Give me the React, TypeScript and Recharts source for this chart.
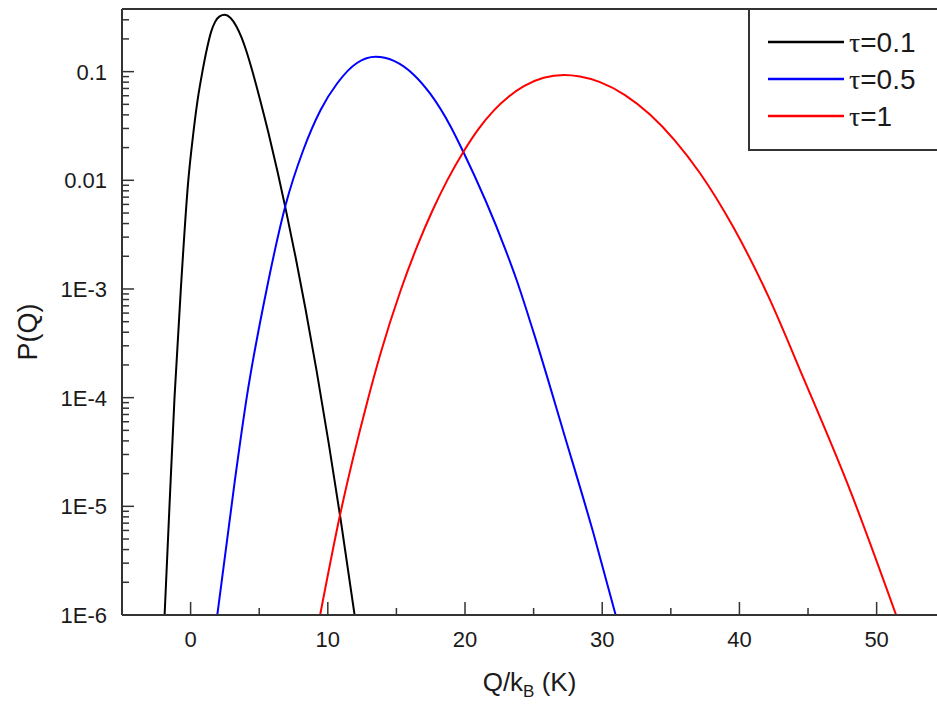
import React from 'react';
import { LineChart, Line, XAxis, YAxis, Legend, ReferenceLine } from 'recharts';

const seriesNames = ['τ=0.1', 'τ=0.5', 'τ=1'];
const seriesColors = ['#000000', '#0000ff', '#ff0000'];

// tau = 0.1
const qTau01 = [-1.895, -1.54, -1.173, -0.707, -0.168, 0.182, 0.51, 0.86, 1.203, 1.494, 1.786, 2.114, 2.478, 2.915, 3.353, 3.717, 4.009, 4.373, 5.029, 5.685, 6.341, 6.924, 7.653, 8.382, 9.184, 10.058, 10.933, 11.953];
const pTau01 = [1e-6, 1e-5, 1e-4, 0.00102, 0.01, 0.0261, 0.0548, 0.1, 0.165, 0.232, 0.287, 0.322, 0.333, 0.3114, 0.2591, 0.2052, 0.1622, 0.1151, 0.0573, 0.0269, 0.01192, 0.00549, 0.001956, 0.000647, 0.0001762, 0.00003857, 0.0000076, 1e-6];

// tau = 0.5
const qTau05 = [1.946, 3.229, 4.06, 5.634, 6.924, 8.214, 9.475, 10.69, 12.15, 13.48, 14.82, 16.28, 17.49, 18.95, 19.88, 22.96, 23.76, 25.02, 27.21, 29.4, 30.98];
const pTau05 = [1e-6, 0.0000174, 0.0000948, 0.00113, 0.00593, 0.019, 0.0444, 0.0782, 0.1208, 0.137, 0.1256, 0.0933, 0.062, 0.0313, 0.0182, 0.00228, 0.00121, 0.00039, 0.0000468, 0.00000542, 1e-6];

// tau = 1
const qTau1 = [9.44, 10.882, 12.879, 13.848, 15.306, 16.545, 17.638, 18.732, 19.876, 20.991, 22.106, 23.178, 24.293, 25.729, 27.208, 28.38, 29.84, 31.66, 33.48, 35.3, 37.13, 39.56, 42.11, 44.66, 48.06, 51.42];
const pTau1 = [1e-6, 0.00000823, 0.0000919, 0.000256, 0.000968, 0.00253, 0.0053, 0.01015, 0.01825, 0.02978, 0.04406, 0.05878, 0.07343, 0.08774, 0.0931, 0.0902, 0.0801, 0.0609, 0.0403, 0.0232, 0.0116, 0.00369, 0.000856, 0.000152, 0.0000141, 1e-6];

const xMajorTicks = [0, 10, 20, 30, 40, 50];
const xMinorTicks = [5, 15, 25, 35, 45];
const yMajorTicks = [1e-6, 1e-5, 1e-4, 1e-3, 0.01, 0.1];
const yMajorLabels = ['1E-6', '1E-5', '1E-4', '1E-3', '0.01', '0.1'];
const yMinorMultipliers = [2, 3, 4, 5, 6, 7, 8, 9];
const xDomain: [number, number] = [-5, 54.4];
const yDomain: [number, number] = [1e-6, 0.377];

const zip = (qs: number[], ps: number[]) => qs.map((q, i) => ({ q, p: ps[i] }));
const seriesData = [zip(qTau01, pTau01), zip(qTau05, pTau05), zip(qTau1, pTau1)];

const yMinorTicks: number[] = [];
yMajorTicks.forEach((d) => {
  yMinorMultipliers.forEach((m) => {
    const v = d * m;
    if (v <= yDomain[1]) yMinorTicks.push(v);
  });
});
const yAllTicks = [...yMajorTicks, ...yMinorTicks];
const xAllTicks = [...xMajorTicks, ...xMinorTicks].sort((a, b) => a - b);

const AXIS = '#333333';
const TEXT = '#1a1a1a';
const FONT = '"Liberation Sans", Arial, Helvetica, sans-serif';

const majorIndex = (v: number) =>
  yMajorTicks.findIndex((m) => Math.abs(Math.log10(m) - Math.log10(v)) < 1e-6);

const YTick = (props: any) => {
  const { x, y, payload } = props;
  const idx = majorIndex(payload.value);
  const major = idx >= 0;
  return (
    <g>
      <line x1={x} x2={x + (major ? 12 : 7)} y1={y} y2={y} stroke={AXIS} strokeWidth={1.5} />
      {major && (
        <text x={x - 15} y={y + 8} textAnchor="end" fontSize={22} fontFamily={FONT} fill={TEXT}>
          {yMajorLabels[idx]}
        </text>
      )}
    </g>
  );
};

const XTick = (props: any) => {
  const { x, y, payload } = props;
  const major = xMajorTicks.includes(payload.value);
  return (
    <g>
      <line x1={x} x2={x} y1={y} y2={y - (major ? 13 : 7)} stroke={AXIS} strokeWidth={1.5} />
      {major && (
        <text x={x} y={y + 32} textAnchor="middle" fontSize={22} fontFamily={FONT} fill={TEXT}>
          {payload.value}
        </text>
      )}
    </g>
  );
};

const YLabel = (props: any) => {
  const vb = props.viewBox || { x: 0, y: 0, width: 0, height: 0 };
  const cx = vb.x + 28;
  const cy = vb.y + vb.height / 2 + 20;
  return (
    <text
      x={cx}
      y={cy}
      transform={`rotate(-90 ${cx} ${cy})`}
      textAnchor="middle"
      dominantBaseline="central"
      fontSize={27}
      fontFamily={FONT}
      fill={TEXT}
    >
      P(Q)
    </text>
  );
};

const XLabel = (props: any) => {
  const vb = props.viewBox || { x: 0, y: 0, width: 0, height: 0 };
  const cx = vb.x + vb.width / 2;
  const by = vb.y + 76;
  return (
    <text x={cx} y={by} textAnchor="middle" fontSize={26} fontFamily={FONT} fill={TEXT}>
      Q/k
      <tspan fontSize={17} dy={6}>B</tspan>
      <tspan dy={-6}> (K)</tspan>
    </text>
  );
};

const LegendBox = (props: any) => {
  const payload = (props.payload || []) as any[];
  const w = 189;
  const h = 142;
  return (
    <svg width={w} height={h} style={{ display: 'block' }}>
      <line x1={1} x2={1} y1={0} y2={h - 1} stroke={AXIS} strokeWidth={2} />
      <line x1={0} x2={w} y1={h - 1} y2={h - 1} stroke={AXIS} strokeWidth={2} />
      {payload.map((entry: any, i: number) => {
        const cy = 33 + i * 37;
        const label = String(entry.value);
        const rest = label.replace('τ', '');
        return (
          <g key={i}>
            <line x1={20} x2={96} y1={cy} y2={cy} stroke={entry.color} strokeWidth={2.5} />
            <text x={101} y={cy + 10} fontSize={28} fontFamily={FONT} fill={TEXT}>
              <tspan fontFamily='"Liberation Serif", "Times New Roman", serif'>τ</tspan>
              {rest}
            </text>
          </g>
        );
      })}
    </svg>
  );
};

export default function App() {
  return (
    <div style={{ position: 'absolute', left: 0, top: 0, width: 937, height: 707, background: '#fff' }}>
      <LineChart width={937} height={707} margin={{ top: 9, right: 0, bottom: 0, left: 0 }}>
        <XAxis
          dataKey="q"
          type="number"
          domain={xDomain}
          allowDataOverflow
          ticks={xAllTicks}
          interval={0}
          height={92}
          tickSize={0}
          tickMargin={0}
          tick={<XTick />}
          axisLine={{ stroke: AXIS, strokeWidth: 2 }}
          label={<XLabel />}
        />
        <YAxis
          type="number"
          scale="log"
          domain={yDomain}
          allowDataOverflow
          ticks={yAllTicks}
          interval={0}
          width={122}
          tickSize={0}
          tickMargin={0}
          tick={<YTick />}
          axisLine={{ stroke: AXIS, strokeWidth: 2 }}
          label={<YLabel />}
        />
        <ReferenceLine y={yDomain[1]} stroke={AXIS} strokeWidth={2} />
        {seriesData.map((d, i) => (
          <Line
            key={seriesNames[i]}
            data={d}
            dataKey="p"
            name={seriesNames[i]}
            type="monotone"
            stroke={seriesColors[i]}
            strokeWidth={2}
            dot={false}
            activeDot={false}
            isAnimationActive={false}
          />
        ))}
        <Legend
          layout="vertical"
          align="center"
          verticalAlign="middle"
          content={<LegendBox />}
          wrapperStyle={{ position: 'absolute', left: 748, top: 9, width: 189, height: 142 }}
        />
      </LineChart>
    </div>
  );
}
